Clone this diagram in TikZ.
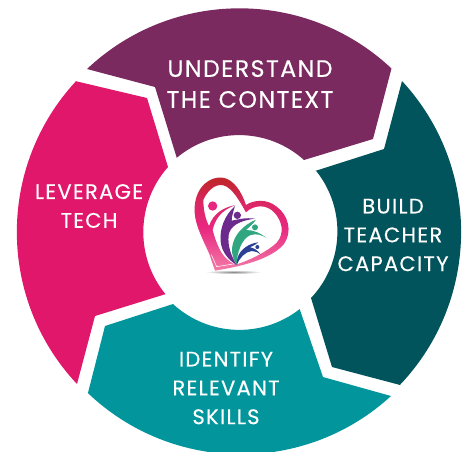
\documentclass[tikz,border=0pt]{standalone}
\usepackage{fontspec}
\setmainfont{Poppins}[LetterSpace=6,FakeBold=0.3]
\definecolor{plum}{HTML}{7B2A60}
\definecolor{deepteal}{HTML}{02545C}
\definecolor{midteal}{HTML}{02969C}
\definecolor{hotpink}{HTML}{E0176A}
\definecolor{logored}{HTML}{C2262F}
\definecolor{logopink}{HTML}{E8277F}
\definecolor{logolight}{HTML}{F27BA8}
\definecolor{logopurple}{HTML}{6C2A8C}
\definecolor{logogreen}{HTML}{2FA67F}
\definecolor{logoblue}{HTML}{2B3F95}
\pgfdeclareverticalshading{heartfade}{100bp}{color(0bp)=(logolight); color(25bp)=(logolight); color(48bp)=(logopink); color(60bp)=(logopink!70!logored); color(72bp)=(logored); color(100bp)=(logored)}
\tikzset{
    seglabel/.style={text=white,font=\fontsize{12}{16.4}\selectfont,align=center,inner sep=0pt},
    toplabel/.style={seglabel,font=\fontsize{13.5}{17.6}\selectfont},
    heartring/.style={even odd rule,shading=heartfade}
}

\begin{document}
\begin{tikzpicture}[x=0.02cm,y=-0.02cm]
    \useasboundingbox (0,0) rectangle (465,451);
    \clip (0,0) rectangle (465,451);
    \fill[plum] (87,69) arc[start angle=226.6,end angle=313.2,radius=222] -- (373,139) -- (304,160)
        arc[start angle=312,end angle=230,radius=97] -- (155,87) -- cycle;
    \fill[deepteal] (402,81) arc[start angle=-42.8,end angle=43.6,radius=222] -- (332,367) -- (311,298)
        arc[start angle=43.3,end angle=-38.7,radius=97] -- (315,171) -- (384,149) -- cycle;
    \fill[midteal] (391,396) arc[start angle=47.5,end angle=133.6,radius=222] -- (105,326) -- (173,304)
        arc[start angle=132.6,end angle=52,radius=98] -- (323,377) -- cycle;
    \fill[hotpink] (77,384) arc[start angle=136.8,end angle=222.8,radius=222] -- (147,98) -- (168,167)
        arc[start angle=221.6,end angle=140.7,radius=98] -- (95,316) -- cycle;
    \node[toplabel] (understand) at (250,84) {UNDERSTAND\\THE CONTEXT};
    \node[seglabel] (build) at (393,235) {BUILD\\TEACHER\\CAPACITY};
    \node[seglabel] (identify) at (226,388) {IDENTIFY\\RELEVANT\\SKILLS};
    \node[seglabel] (leverage) at (89,206) {LEVERAGE\\TECH};
    \begin{scope}[shift={(170,150)},x=0.00667cm,y=-0.00667cm]
        \shade[inner color=black!45,outer color=white] (190,366) ellipse [x radius=85,y radius=6];
        \shade[heartring] (118,312) .. controls (95,260) and (70,215) .. (74,170)
            .. controls (78,110) and (120,78) .. (158,83)
            .. controls (190,87) and (215,125) .. (228,165)
            .. controls (250,150) and (290,145) .. (320,170)
            .. controls (355,195) and (368,245) .. (342,282)
            .. controls (310,320) and (240,345) .. (135,362) -- cycle
            (100,150) .. controls (115,115) and (145,95) .. (170,110)
            .. controls (195,125) and (215,165) .. (228,187)
            .. controls (250,165) and (290,160) .. (315,190)
            .. controls (345,225) and (340,265) .. (310,287)
            .. controls (280,310) and (240,330) .. (200,343)
            .. controls (180,340) and (160,320) .. (150,300)
            .. controls (140,280) and (133,260) .. (128,240)
            .. controls (135,210) and (150,182) .. (197,165)
            .. controls (160,172) and (130,190) .. (117,228)
            .. controls (105,205) and (100,175) .. (100,150) -- cycle;
        \draw[white,line width=0.3pt] (124,314) -- (140,350) -- (196,341);
        \fill[logopink] (128,168) circle (14);
        \fill[logopurple] (195,168) .. controls (165,195) and (148,235) .. (152,275)
            .. controls (155,305) and (175,330) .. (200,345)
            .. controls (185,320) and (172,290) .. (176,255)
            .. controls (180,230) and (205,212) .. (255,206)
            .. controls (225,202) and (205,208) .. (185,212)
            .. controls (185,200) and (190,185) .. (195,168) -- cycle;
        \fill[logopurple] (202,196) circle (11);
        \fill[logogreen] (258,209) .. controls (220,225) and (190,255) .. (186,295)
            .. controls (185,315) and (192,332) .. (200,345)
            .. controls (200,310) and (215,265) .. (242,255)
            .. controls (260,250) and (275,255) .. (288,263)
            .. controls (270,248) and (250,240) .. (228,240)
            .. controls (240,230) and (250,220) .. (258,209) -- cycle;
        \fill[logogreen] (255,232) circle (9);
        \fill[logoblue] (265,277) .. controls (235,280) and (210,300) .. (203,322)
            .. controls (200,332) and (200,340) .. (200,345)
            .. controls (208,325) and (225,305) .. (245,303)
            .. controls (255,303) and (265,307) .. (272,313)
            .. controls (262,300) and (250,293) .. (240,292)
            .. controls (250,288) and (258,283) .. (265,277) -- cycle;
        \fill[logoblue] (262,291) circle (6);
    \end{scope}
\end{tikzpicture}
\end{document}
